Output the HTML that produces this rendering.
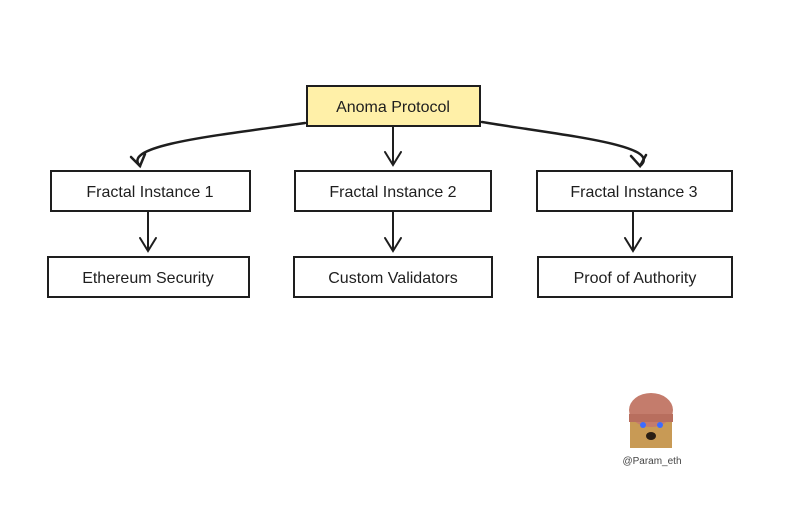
<!DOCTYPE html>
<html><head><style>
body{margin:0;width:810px;height:524px;background:#fff;overflow:hidden;font-family:"Comic Sans MS","Liberation Sans",sans-serif;}
</style></head><body>
<svg width="810" height="524" viewBox="0 0 810 524" xmlns="http://www.w3.org/2000/svg">
<g stroke="#1e1e1e" stroke-width="2" fill="#fff">
<rect x="307" y="86" width="173" height="40" fill="#fff0a8"/>
<rect x="51" y="171" width="199" height="40"/>
<rect x="295" y="171" width="196" height="40"/>
<rect x="537" y="171" width="195" height="40"/>
<rect x="48" y="257" width="201" height="40"/>
<rect x="294" y="257" width="198" height="40"/>
<rect x="538" y="257" width="194" height="40"/>
</g>
<g stroke="#1e1e1e" stroke-width="2.5" fill="none" stroke-linecap="round">
<path d="M305 123 C220 135 120 145 140 166"/>
<path d="M131 157 L140 166 L145 154"/>
<path d="M482 122 C560 135 665 145 640 166"/>
<path d="M631 156 L640 166 L646 155"/>
</g>
<g stroke="#1e1e1e" stroke-width="2" fill="none" stroke-linecap="round">
<path d="M393 127 L393 165 M385 152 L393 165 L401 152"/>
<path d="M148 212 L148 251 M140 238 L148 251 L156 238"/>
<path d="M393 212 L393 251 M385 238 L393 251 L401 238"/>
<path d="M633 212 L633 251 M625 238 L633 251 L641 238"/>
</g>
<g font-family="Comic Sans MS, Liberation Sans, sans-serif" font-size="16" fill="#1e1e1e" text-anchor="middle">
<text x="393" y="112">Anoma Protocol</text>
<text x="150" y="197">Fractal Instance 1</text>
<text x="393" y="197">Fractal Instance 2</text>
<text x="634" y="197">Fractal Instance 3</text>
<text x="148" y="283">Ethereum Security</text>
<text x="393" y="283">Custom Validators</text>
<text x="635" y="283">Proof of Authority</text>
</g>
<g>
<rect x="630" y="418" width="42" height="30" fill="#c89a55"/>
<ellipse cx="651" cy="410" rx="22" ry="17" fill="#c47c6c"/>
<rect x="629" y="414" width="44" height="8" fill="#b86e5e"/>
<circle cx="643" cy="425" r="3" fill="#3d6cff"/>
<circle cx="660" cy="425" r="3" fill="#3d6cff"/>
<ellipse cx="651" cy="436" rx="5" ry="4" fill="#2a1e14"/>
<text x="652" y="464" font-family="Liberation Sans, sans-serif" font-size="10" fill="#444" text-anchor="middle">@Param_eth</text>
</g>
</svg>
</body></html>
